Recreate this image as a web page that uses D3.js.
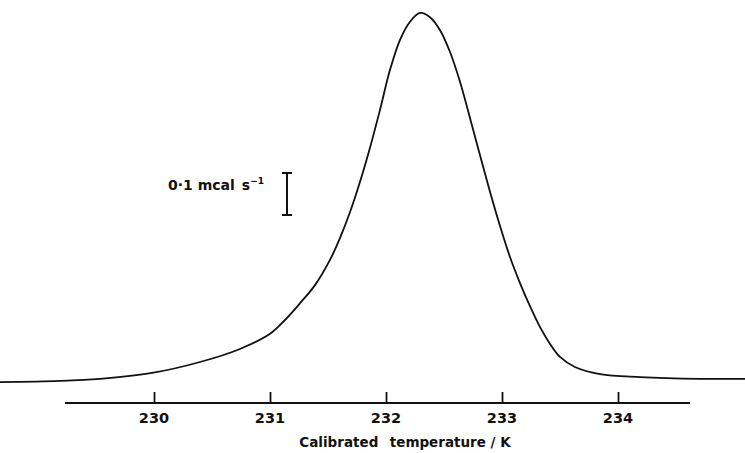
<!DOCTYPE html>
<html>
<head>
<meta charset="utf-8">
<script src="https://cdn.jsdelivr.net/npm/d3@7"></script>
<style>
  html, body { margin: 0; padding: 0; background: #fff; }
  svg { display: block; }
  text { font-family: "DejaVu Sans", "Liberation Sans", sans-serif; fill: #111; }
</style>
</head>
<body>
<svg id="chart" width="745" height="453"></svg>
<script>
// Temperature (K) of the recorded trace
const temperature = [228.672, 229.190, 229.534, 229.983, 230.397, 230.741, 231.000, 231.129, 231.259, 231.388, 231.517, 231.603, 231.690, 231.776, 231.862, 231.948, 232.034, 232.121, 232.207, 232.293, 232.379, 232.466, 232.552, 232.638, 232.724, 232.810, 232.897, 232.983, 233.069, 233.155, 233.241, 233.328, 233.414, 233.500, 233.629, 233.845, 234.190, 234.707, 235.095];
// Heat flow above baseline (mcal s^-1)
const heatFlow = [0.002, 0.005, 0.010, 0.024, 0.050, 0.081, 0.117, 0.150, 0.190, 0.233, 0.293, 0.345, 0.407, 0.479, 0.560, 0.650, 0.745, 0.817, 0.860, 0.881, 0.871, 0.840, 0.788, 0.717, 0.631, 0.543, 0.455, 0.374, 0.300, 0.238, 0.183, 0.133, 0.093, 0.062, 0.038, 0.021, 0.014, 0.010, 0.010];
const tickValues = [230, 231, 232, 233, 234];
const tickLabels = ["230", "231", "232", "233", "234"];
const axisTitle = "Calibrated\u2002 temperature / K";
const scaleBarValue = 0.1;

const svg = d3.select("#chart");
const x = d3.scaleLinear().domain([230, 234]).range([154, 618]);
const y = d3.scaleLinear().domain([0, 0.9]).range([383, 5]);

const data = temperature.map((t, i) => ({t, v: heatFlow[i]}));

const line = d3.line()
  .x(d => x(d.t))
  .y(d => y(d.v))
  .curve(d3.curveCatmullRom.alpha(0.5));

svg.append("path")
  .datum(data)
  .attr("d", line)
  .attr("fill", "none")
  .attr("stroke", "#111")
  .attr("stroke-width", 1.8);

// x axis
const axisY = 403;
const axisG = svg.append("g").attr("transform", `translate(0,${axisY})`);
const axis = d3.axisTop(x)
  .tickValues(tickValues)
  .tickFormat(() => "")
  .tickSize(11)
  .tickSizeOuter(0);
axisG.call(axis);
axisG.select(".domain").remove();
axisG.selectAll(".tick line").attr("stroke", "#111").attr("stroke-width", 1.8);
axisG.append("line")
  .attr("x1", x(229.233))
  .attr("x2", x(234.621))
  .attr("y1", 0).attr("y2", 0)
  .attr("stroke", "#111").attr("stroke-width", 2);

axisG.selectAll(".tlabel")
  .data(tickValues)
  .enter().append("text")
  .attr("class", "tlabel")
  .attr("x", d => x(d))
  .attr("y", 20)
  .attr("text-anchor", "middle")
  .attr("font-size", 14.5)
  .attr("font-weight", "bold")
  .text((d, i) => tickLabels[i]);

svg.append("text")
  .attr("x", x(232.164))
  .attr("y", 447)
  .attr("text-anchor", "middle")
  .attr("font-size", 13.5)
  .attr("font-weight", "bold")
  .text(axisTitle);

// Scale bar 0.1 mcal s^-1
const barX = 287;
const barTop = 173;
const barBottom = barTop + (y(0) - y(scaleBarValue));
const bar = svg.append("g").attr("stroke", "#111").attr("stroke-width", 2);
bar.append("line").attr("x1", barX).attr("x2", barX).attr("y1", barTop).attr("y2", barBottom);
bar.append("line").attr("x1", barX - 5).attr("x2", barX + 5).attr("y1", barTop).attr("y2", barTop);
bar.append("line").attr("x1", barX - 5).attr("x2", barX + 5).attr("y1", barBottom).attr("y2", barBottom);

const lbl = svg.append("text")
  .attr("x", 168)
  .attr("y", 190)
  .attr("font-size", 14)
  .attr("font-weight", "bold");
lbl.append("tspan").text("0\u00B71 mcal\u2002s");
lbl.append("tspan").attr("dy", -6).attr("font-size", 9).text("\u22121");
</script>
</body>
</html>
